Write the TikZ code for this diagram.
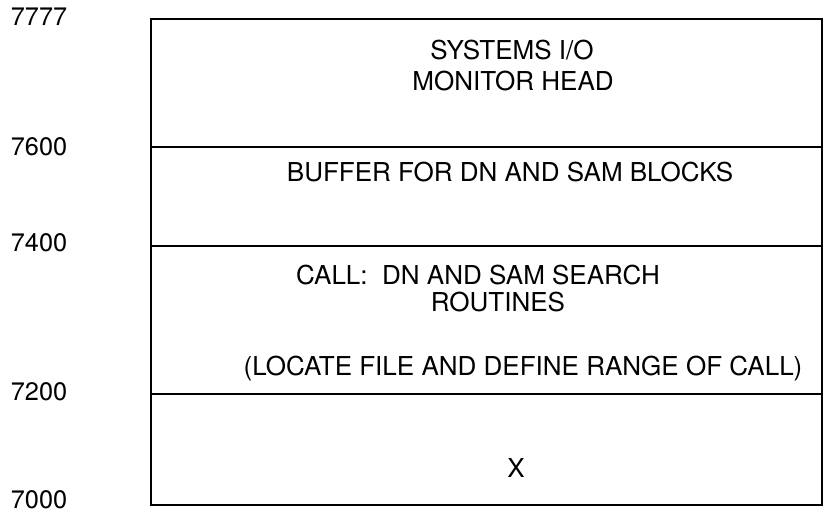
\documentclass[tikz,border=0pt]{standalone}
\usepackage{fontspec}
\setmainfont{TeX Gyre Heros}
\usetikzlibrary{positioning}

\begin{document}
\begin{tikzpicture}
    [
        x = 0.025cm, y = -0.025cm,
        address/.style = {font=\fontsize{18}{20}\selectfont, inner sep=0pt},
        area/.style    = {font=\fontsize{18.5}{22}\selectfont, align=center, inner sep=0pt},
        edge/.style    = {line width=1.2pt}
    ]
    \useasboundingbox (0,0) rectangle (827,516);

    % memory block and its divisions
    \coordinate (topleft) at (151,19);
    \coordinate (botright) at (822,505);
    \draw [edge, line width=1.4pt] (topleft) rectangle (botright);
    \draw [edge] (151,147) -- (822,147);
    \draw [edge] (151,246) -- (822,246);
    \draw [edge] (151,394) -- (822,394);

    % addresses
    \node [address] at (39,17) (addrA) {7777};
    \node [address] at (39,147) (addrB) {7600};
    \node [address] at (39,243) (addrC) {7400};
    \node [address] at (39,392) (addrD) {7200};
    \node [address] at (39,500) (addrE) {7000};

    % contents
    \node [area] at (512,50) (head) {SYSTEMS I/O};
    \node [area] at (513,81) (monitor) {MONITOR HEAD};
    \node [area] at (510,172) (buffer) {BUFFER FOR DN AND SAM BLOCKS};
    \node [area] at (478,275) (call) {CALL:\ \ DN AND SAM SEARCH};
    \node [area] at (498,302) (routines) {ROUTINES};
    \node [area] at (523,369) (locate) {(LOCATE FILE AND DEFINE RANGE OF CALL)};
    \node [area] at (516,468) (xarea) {X};
\end{tikzpicture}
\end{document}
